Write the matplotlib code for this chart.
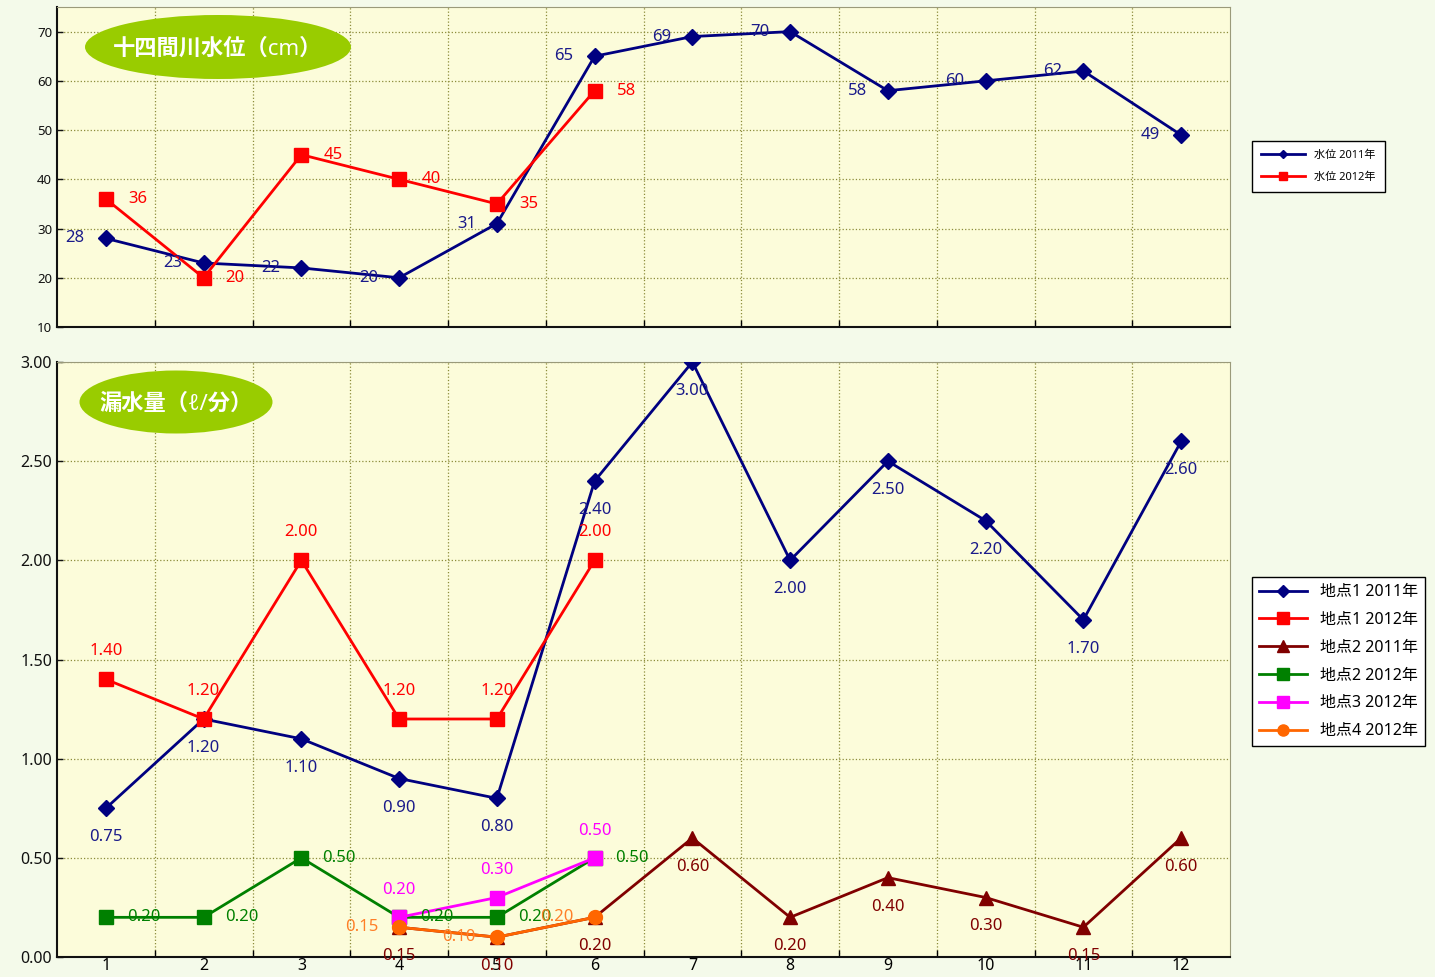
import matplotlib.pyplot as plt
from matplotlib.patches import Ellipse
from matplotlib.ticker import FixedLocator, FormatStrFormatter

plt.rcParams['font.family'] = ['Noto Sans', 'Noto Sans CJK JP', 'DejaVu Sans']

months = list(range(1, 13))

# water level (cm)
level_2011 = [28, 23, 22, 20, 31, 65, 69, 70, 58, 60, 62, 49]
level_2012 = [36, 20, 45, 40, 35, 58]

# leakage (l/min)
p1_2011 = [0.75, 1.20, 1.10, 0.90, 0.80, 2.40, 3.00, 2.00, 2.50, 2.20, 1.70, 2.60]
p1_2012 = [1.40, 1.20, 2.00, 1.20, 1.20, 2.00]
p2_2011_months = [4, 5, 6, 7, 8, 9, 10, 11, 12]
p2_2011 = [0.15, 0.10, 0.20, 0.60, 0.20, 0.40, 0.30, 0.15, 0.60]
p2_2012 = [0.20, 0.20, 0.50, 0.20, 0.20, 0.50]
p3_months = [4, 5, 6]
p3_2012 = [0.20, 0.30, 0.50]
p4_months = [4, 5, 6]
p4_2012 = [0.15, 0.10, 0.20]

FIG_BG = '#F4FAEA'
AX_BG = '#FCFCDA'
GRID = '#8C8C3A'
NAVY = '#000080'
RED = '#FF0000'
DRED = '#800000'
GREEN = '#008000'
MAGENTA = '#FF00FF'
ORANGE = '#FF6600'
LBL = 12

fig = plt.figure(figsize=(14.35, 9.77), dpi=100, facecolor=FIG_BG)
W, H = 1435, 977


def px_axes(x0, y0, x1, y1):
    return fig.add_axes([x0 / W, 1 - y1 / H, (x1 - x0) / W, (y1 - y0) / H])


def style_axes(ax):
    ax.set_facecolor(AX_BG)
    ax.set_xlim(0.5, 12.5)
    ax.xaxis.set_major_locator(FixedLocator(months))
    ax.xaxis.set_minor_locator(FixedLocator([m + 0.5 for m in range(1, 12)]))
    ax.grid(True, which='minor', axis='x', color=GRID, linestyle=':', linewidth=0.9)
    ax.grid(True, which='major', axis='y', color=GRID, linestyle=':', linewidth=0.9)
    ax.tick_params(axis='x', which='major', length=0)
    ax.tick_params(axis='x', which='minor', length=5, direction='in', width=1)
    ax.tick_params(axis='y', length=4, direction='in', width=1, colors='#111111')
    for s in ('left', 'bottom'):
        ax.spines[s].set_color('#111111')
        ax.spines[s].set_linewidth(1.5)
    for s in ('top', 'right'):
        ax.spines[s].set_color('#9A9A7A')
        ax.spines[s].set_linewidth(0.8)
    ax.set_axisbelow(True)


def label(ax, xs, ys, fmt, color, dx, dy, ha):
    for x, y in zip(xs, ys):
        ax.annotate(fmt.format(y), (x, y), xytext=(dx, dy), textcoords='offset pixels',
                    ha=ha, va='center', color=color, fontsize=LBL, zorder=6)


# ---- water level panel ----
ax1 = px_axes(57, 7, 1230, 327)
style_axes(ax1)
ax1.set_ylim(10, 75)
ax1.yaxis.set_major_locator(FixedLocator(range(10, 80, 10)))
ax1.tick_params(axis='y', labelsize=9.5)
ax1.set_xticklabels([])

ax1.plot(months, level_2011, color=NAVY, lw=2, marker='D', ms=8, label='水位 2011年', zorder=3)
ax1.plot(months[:6], level_2012, color=RED, lw=2, marker='s', ms=10, label='水位 2012年', zorder=4)
label(ax1, months, level_2011, '{:d}', '#1A1A8A', -21, 0, 'right')
label(ax1, months[:6], level_2012, '{:d}', RED, 22, 0, 'left')

ax1.add_patch(Ellipse((218 / W, 1 - 47 / H), 266 / W, 64 / H, transform=fig.transFigure,
                      facecolor='#99CC00', edgecolor='none', zorder=7))
fig.text(218 / W, 1 - 49 / H, '十四間川水位（cm）', ha='center', va='center', color='white',
         fontsize=16, fontweight='bold', zorder=8)

leg1 = fig.legend(*ax1.get_legend_handles_labels(), loc='upper left',
                  bbox_to_anchor=(1252 / W, 1 - 141 / H), borderaxespad=0, fontsize=8,
                  frameon=True, fancybox=False, edgecolor='black', facecolor='white',
                  framealpha=1, markerscale=0.55, handlelength=4.0, borderpad=0.8,
                  labelspacing=1.0)
leg1.get_frame().set_linewidth(1)

# ---- leakage panel ----
ax2 = px_axes(57, 362, 1230, 957)
style_axes(ax2)
ax2.set_ylim(0, 3)
ax2.yaxis.set_major_locator(FixedLocator([0, 0.5, 1, 1.5, 2, 2.5, 3]))
ax2.yaxis.set_major_formatter(FormatStrFormatter('%.2f'))
ax2.tick_params(axis='y', labelsize=11.5)
ax2.tick_params(axis='x', labelsize=11.5, pad=1)

ax2.plot(months, p1_2011, color=NAVY, lw=2, marker='D', ms=8, label='地点1 2011年', zorder=3)
ax2.plot(months[:6], p1_2012, color=RED, lw=2, marker='s', ms=10, label='地点1 2012年', zorder=3)
ax2.plot(p2_2011_months, p2_2011, color=DRED, lw=2, marker='^', ms=10, label='地点2 2011年', zorder=3)
ax2.plot(months[:6], p2_2012, color=GREEN, lw=2, marker='s', ms=10, label='地点2 2012年', zorder=4)
ax2.plot(p3_months, p3_2012, color=MAGENTA, lw=2, marker='s', ms=10, label='地点3 2012年', zorder=4)
ax2.plot(p4_months, p4_2012, color=ORANGE, lw=2, marker='o', ms=10, label='地点4 2012年', zorder=5)

label(ax2, months, p1_2011, '{:.2f}', '#1A1A8A', 0, -29, 'center')
label(ax2, months[:6], p1_2012, '{:.2f}', RED, 0, 28, 'center')
label(ax2, p2_2011_months, p2_2011, '{:.2f}', DRED, 0, -29, 'center')
label(ax2, months[:6], p2_2012, '{:.2f}', GREEN, 21, 0, 'left')
label(ax2, p3_months, p3_2012, '{:.2f}', MAGENTA, 0, 27, 'center')
label(ax2, p4_months, p4_2012, '{:.2f}', '#FF7F27', -21, 0, 'right')

ax2.add_patch(Ellipse((176 / W, 1 - 402 / H), 193 / W, 63 / H, transform=fig.transFigure,
                      facecolor='#99CC00', edgecolor='none', zorder=7))
fig.text(176 / W, 1 - 404 / H, '漏水量（ℓ/分）', ha='center', va='center', color='white',
         fontsize=16, fontweight='bold', zorder=8)

leg2 = fig.legend(*ax2.get_legend_handles_labels(), loc='upper left',
                  bbox_to_anchor=(1252 / W, 1 - 577 / H), borderaxespad=0, fontsize=11.5,
                  frameon=True, fancybox=False, edgecolor='black', facecolor='white',
                  framealpha=1, markerscale=0.8, handlelength=3.0, borderpad=0.45,
                  labelspacing=0.74)
leg2.get_frame().set_linewidth(1)

fig.savefig('out.png', dpi=100, facecolor=FIG_BG)
